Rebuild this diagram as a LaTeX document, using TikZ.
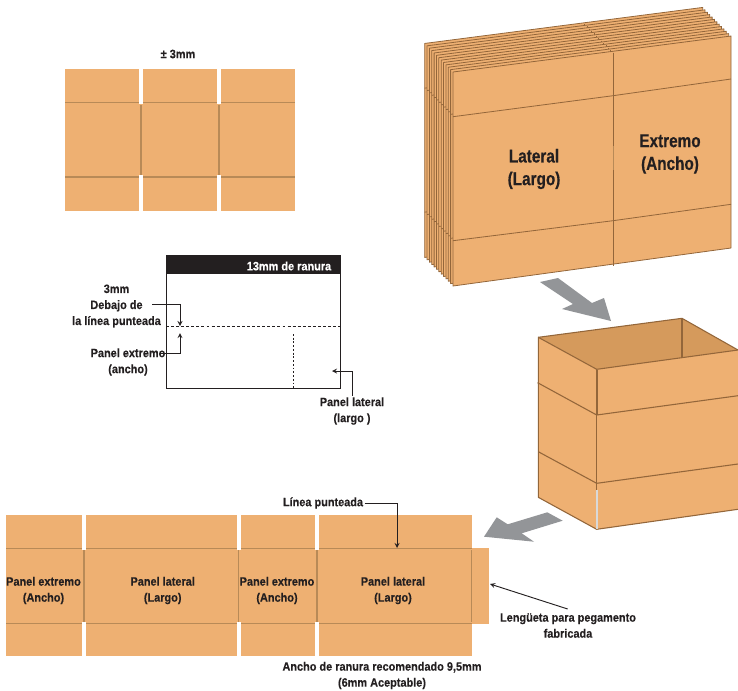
\documentclass[tikz,border=0pt]{standalone}
\usepackage{fontspec}
\newfontfamily\labelfont{Liberation Sans Bold}[FakeStretch=0.9,FakeBold=0.25]
\newfontfamily\biglabelfont{Liberation Sans Bold}[FakeStretch=0.82,FakeBold=0.5]
\definecolor{carton}{HTML}{EEB072}
\definecolor{cartonin}{HTML}{D59A5C}
\definecolor{crease}{HTML}{B88A57}
\definecolor{edge}{HTML}{93663A}
\definecolor{inktext}{HTML}{231F20}
\definecolor{arrowgray}{HTML}{939598}

\begin{document}
\begin{tikzpicture}[x=0.75pt,y=-0.75pt]
\tikzstyle{label} = [font=\labelfont\fontsize{9.1}{12}\selectfont, text=inktext, align=center, inner sep=1pt, yshift=-0.75pt]
\tikzstyle{biglabel} = [font=\biglabelfont\fontsize{14}{17}\selectfont, text=inktext, align=center, inner sep=1pt, yshift=-1.5pt]
\tikzstyle{fold} = [crease, line width=1pt]
\tikzstyle{side} = [edge, line width=0.8pt, line join=round]
\tikzstyle{sheet} = [fill=carton, draw=edge, line width=0.6pt, line join=round]
\tikzstyle{bigarrow} = [fill=arrowgray]
\tikzstyle{arrow} = [inktext, line width=0.7pt, ->, >=stealth]

    \useasboundingbox (0, 0) rectangle (738, 690);

    % small blank
    \node (tol) at (178, 53) [label] {± 3mm};
    \fill [carton] (65, 69) rectangle (295, 211);
    \foreach \x in {139, 217} {
        \fill [white] (\x, 69) rectangle (\x+4, 104);
        \fill [white] (\x, 175) rectangle (\x+4, 211);
        \draw [fold] (\x+2, 105) -- (\x+2, 175);
    }
    \draw [fold] (65, 102.5) -- (295, 102.5);
    \draw [fold] (65, 177) -- (295, 177);
    \foreach \x in {139, 217} {
        \fill [white] (\x, 101) rectangle (\x+4, 104);
        \fill [white] (\x, 175.5) rectangle (\x+4, 178.5);
    }

    % slot detail
    \fill [inktext] (166, 255) rectangle (340, 274);
    \draw [inktext, line width=0.7pt] (166, 255) rectangle (340, 388);
    \draw [inktext, line width=0.55pt, dash pattern=on 2.2pt off 1.6pt] (166, 326) -- (340, 326);
    \draw [inktext, line width=0.7pt, dash pattern=on 1.4pt off 1.4pt] (293, 334) -- (293, 388);
    \node (slot) at (289, 265) [label, text=white] {13mm de ranura};
    \node (below) at (116.5, 305) [label] {3mm\\Debajo de\\la línea punteada};
    \node (endpanel) at (128, 361) [label] {Panel extremo\\(ancho)};
    \node (sidepanel) at (352, 410) [label] {Panel lateral\\(largo )};
    \coordinate (belowstart) at (152, 304);
    \coordinate (endstart) at (160, 353);
    \coordinate (dashtop) at (180, 326);
    \coordinate (dashbottom) at (180, 333);
    \coordinate (sidetip) at (332, 371);
    \draw [arrow] (belowstart) -| (dashtop);
    \draw [arrow] (endstart) -| (dashbottom);
    \draw [arrow] (sidepanel.north) |- (sidetip);

    % stack of blanks
    \foreach \k in {12, 11, ..., 0} {
        \begin{scope}[shift={(-\k*2.36, -\k*2.38)}]
            \draw [sheet] (453, 72) -- (731, 36) -- (731, 248) -- (453, 286) -- cycle;
            \draw [edge, line width=0.6pt] (613, 52.5) -- (613, 266);
            \draw [edge, line width=0.6pt] (453, 116.7) -- (613, 95.7) -- (731, 79);
            \draw [edge, line width=0.6pt] (453, 240.7) -- (613, 220.7) -- (731, 204.3);
        \end{scope}
    }
    \draw [edge, line width=1.3pt] (613.5, 52.5) -- (613.5, 95.7);
    \draw [edge, line width=1.3pt] (613.5, 220.7) -- (613.5, 266);
    \draw [crease, line width=1.2pt] (613.5, 146) -- (613.5, 170);
    \node (lateral) at (534, 167) [biglabel] {Lateral\\(Largo)};
    \node (extremo) at (670, 152) [biglabel] {Extremo\\(Ancho)};

    % gray arrows
    \fill [bigarrow] (540, 282) -- (558, 278) -- (592, 303) -- (604, 298) -- (611, 321) -- (562, 309) -- (573, 304) -- cycle;
    \fill [bigarrow] (547.3, 512.3) -- (562.7, 520.7) -- (521.7, 533.3) -- (534, 541.7) -- (484, 536.7) -- (496.7, 517.3) -- (507.7, 524.3) -- cycle;

    % erected box
    \fill [cartonin] (538.3, 337.3) -- (682, 318.3) -- (738, 350) -- (596.7, 369.3) -- cycle;
    \draw [side] (538.3, 337.3) -- (682, 318.3) -- (738, 350);
    \draw [edge, line width=1.4pt] (682, 318.3) -- (682, 357);
    \fill [carton] (538.3, 337.3) -- (596.7, 369.3) -- (596.7, 529.3) -- (538.3, 497.3) -- cycle;
    \fill [carton] (596.7, 369.3) -- (738, 350) -- (738, 509.3) -- (596.7, 529.3) -- cycle;
    \draw [side] (738, 350) -- (596.7, 369.3) -- (538.3, 337.3) -- (538.3, 497.3) -- (596.7, 529.3) -- (738, 509.3);
    \draw [side] (596.7, 369.3) -- (596.7, 529.3);
    \draw [edge, line width=1.5pt] (597.2, 370) -- (597.2, 415);
    \draw [white!85!black, line width=0.9pt] (596.9, 490) -- (596.9, 528.5);
    \draw [side] (537.6, 382.7) -- (596.7, 415) -- (738, 395.7);
    \draw [side] (538.3, 451.7) -- (596.7, 483.3) -- (738, 464);

    % flat blank
    \fill [carton] (6, 515.3) rectangle (471.7, 656.3);
    \fill [carton] (471.7, 548) rectangle (489, 624);
    \foreach \x in {82, 237, 315} {
        \fill [white] (\x, 515.3) rectangle (\x+4, 550);
        \fill [white] (\x, 621.7) rectangle (\x+4, 656.3);
    }
    \foreach \x in {84, 238.7, 317, 471.7} {
        \draw [fold] (\x, 550) -- (\x, 621.7);
    }
    \foreach \a/\b in {6/82, 86/237, 241/315, 319/471.7} {
        \draw [fold] (\a, 548.7) -- (\b, 548.7);
        \draw [fold] (\a, 623.7) -- (\b, 623.7);
    }
    \node (panela) at (43.5, 589.5) [label] {Panel extremo\\(Ancho)};
    \node (panelb) at (162.7, 589.5) [label] {Panel lateral\\(Largo)};
    \node (panelc) at (277, 589.5) [label] {Panel extremo\\(Ancho)};
    \node (paneld) at (393, 589.5) [label] {Panel lateral\\(Largo)};
    \node (line) at (323, 502) [label] {Línea punteada};
    \node (glue) at (568, 624.5) [label] {Lengüeta para pegamento\\fabricada};
    \node (width) at (382, 674.5) [label] {Ancho de ranura recomendado 9,5mm\\(6mm Aceptable)};
    \coordinate (foldtip) at (397, 548);
    \coordinate (gluefrom) at (567.7, 609);
    \coordinate (gluetip) at (490, 584);
    \draw [arrow] (line.east) -| (foldtip);
    \draw [arrow] (gluefrom) -- (gluetip);
\end{tikzpicture}
\end{document}
